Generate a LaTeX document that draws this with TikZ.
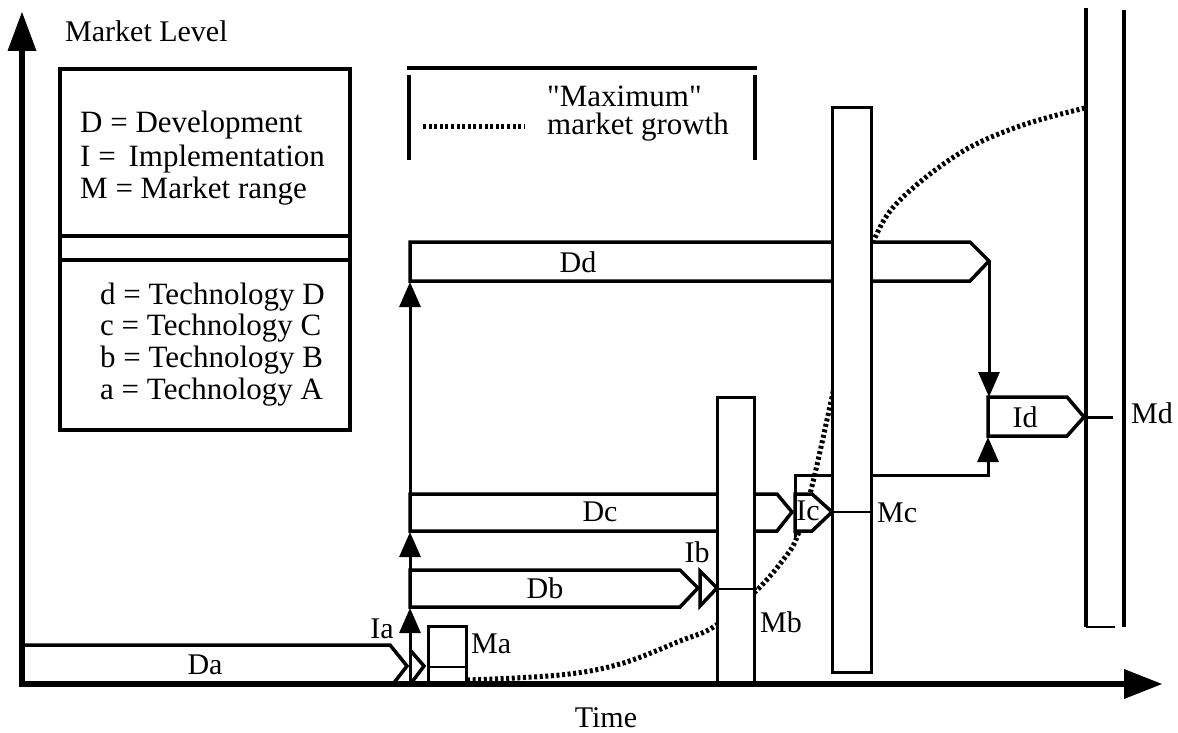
\documentclass[tikz,border=0pt]{standalone}
\usepackage{fontspec}
\setmainfont{Liberation Serif}
\newfontfamily\rawserif{Liberation Serif}[Ligatures=TeXOff]
\usetikzlibrary{arrows.meta}
\begin{document}
\begin{tikzpicture}[x=1pt,y=-1pt,
  band/.style={draw, line width=3.5pt, fill=white, line join=miter},
  bar/.style={draw, line width=3pt, fill=white},
  thinline/.style={line width=2pt},
  conn/.style={line width=3pt},
  tipend/.style={-{Triangle[length=25pt,width=21pt]}},
  lab/.style={font=\fontsize{30}{32}\selectfont, inner sep=0pt},
  leg/.style={font=\fontsize{31}{32}\selectfont, inner sep=0pt, anchor=base west},
  growth/.style={line width=5pt, dash pattern=on 3pt off 2.6pt}
]
\useasboundingbox (0,0) rectangle (1178,733);

% growth curve
\draw[growth] plot[smooth, tension=0.6] coordinates {(467,680) (560,675) (620,664) (680,641) (715,626) (757,590) (783,560) (797,537) (812,486) (832,397) (852,305) (874,240) (900,200) (960,153) (1020,126) (1085,108)};

% legend boxes
\draw[line width=3.5pt] (60,69) rectangle (350,430);
\draw[line width=3.5pt] (60,236) -- (350,236);
\draw[line width=3.5pt] (60,260) -- (352,260);
\node[leg] (l1) at (80,133) {D = Development};
\node[leg] (l2) at (80,166) {I =\, Implementation};
\node[leg] (l3) at (80,198) {M = Market range};
\node[leg] (l4) at (100,304) {d = Technology D};
\node[leg] (l5) at (100,335) {c = Technology C};
\node[leg] (l6) at (100,367) {b = Technology B};
\node[leg] (l7) at (100,399) {a = Technology A};

\draw[line width=3.5pt] (407,68) -- (757,68);
\draw[line width=3.5pt] (409,75) -- (409,160);
\draw[line width=3.5pt] (755,75) -- (755,160);
\draw[growth] (423,127) -- (525,127);
\node[leg] (max1) at (547,107) {{\rawserif"Maximum"}};
\node[leg] (max2) at (547,135) {market growth};

% bands
\draw[band] (20,645) -- (390,645) -- (407,666) -- (393,684);
\draw[band] (410,570) -- (680,570) -- (698,588) -- (680,607) -- (410,607) -- cycle;
\draw[band] (410,494) -- (777,494) -- (792,512) -- (777,531) -- (410,531) -- cycle;
\draw[band] (410,242) -- (970,242) -- (989,261) -- (970,281) -- (410,281) -- cycle;
\draw[band] (988,397) -- (1067,397) -- (1084,417) -- (1067,436) -- (988,436) -- cycle;

% Ic
\draw[band] (795,494) -- (812,494) -- (832,512) -- (812,531) -- (795,531) -- cycle;
\draw[conn, tipend] (795,537) -- (795,475) -- (988,475) -- (988,437);
\draw[conn, tipend] (989,261) -- (989,397);

% vertical arrows
\draw[conn, tipend] (410,684) -- (410,608);
\draw[conn, tipend] (410,570) -- (410,532);
\draw[conn, tipend] (410,494) -- (410,282);

% Ia chevron, Ib triangle
\draw[line width=3.5pt, line join=miter] (410,650) -- (424,666) -- (412,682);
\draw[line width=3.5pt, line join=miter] (700,571) -- (717,588) -- (700,606) -- cycle;

% bars
\draw[bar] (428,626) rectangle (466,684);
\draw[line width=2.5pt] (428,667) -- (466,667);
\draw[bar] (717,397) rectangle (754,684);
\draw[thinline] (717,589) -- (757,589);
\draw[bar] (832,108) rectangle (871,672);
\draw[thinline] (832,512) -- (870,512);

% Md
\draw[line width=4.5pt] (1086,8) -- (1086,627);
\draw[line width=3.5pt] (1124,10) -- (1124,627);
\draw[thinline] (1086,627) -- (1115,627);
\draw[line width=3pt] (1084,417) -- (1113,417);

% labels
\node[lab] (Da) at (205,665) {Da};
\node[lab] (Db) at (545,588) {Db};
\node[lab] (Dc) at (600,512) {Dc};
\node[lab] (Dd) at (578,262) {Dd};
\node[lab] (Id) at (1025,417) {Id};
\node[lab] (Ic) at (808,511) {Ic};
\node[lab, anchor=base east] (Ia) at (394,638) {Ia};
\node[lab] (Ib) at (697,552) {Ib};
\node[lab, anchor=base west] (Ma) at (471,653) {Ma};
\node[lab, anchor=base west] (Mb) at (760,632) {Mb};
\node[lab, anchor=base west] (Mc) at (877,522) {Mc};
\node[lab, anchor=base west] (Md) at (1131,423) {Md};
\node[lab, anchor=base west] (ml) at (65,42) {Market Level};
\node[lab] (time) at (606,718) {Time};

% axes
\draw[line width=6.5pt, line join=miter] (22,50) -- (22,684) -- (1126,684);
\fill (22,12) -- (7.5,51) -- (36.5,51) -- cycle;
\fill (1162,684) -- (1124,669) -- (1124,699) -- cycle;
\end{tikzpicture}
\end{document}
